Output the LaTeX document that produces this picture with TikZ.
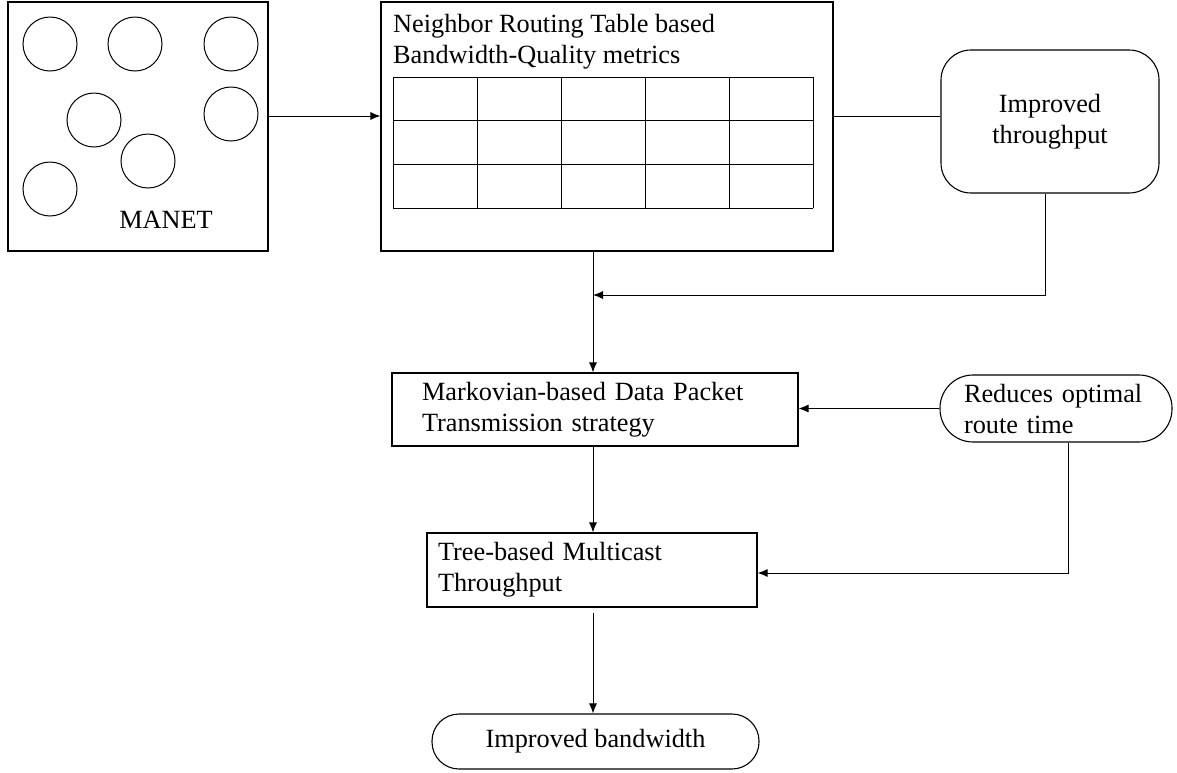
\documentclass[tikz,border=0pt]{standalone}
\usepackage{fontspec}
\setmainfont{Liberation Serif}
\usetikzlibrary{arrows.meta}

\begin{document}
\begin{tikzpicture}[x=1pt, y=-1pt,
		every node/.style={font=\fontsize{26.3}{31}\selectfont},
		box/.style={draw, line width=1.1pt, inner sep=0pt},
		rbox/.style={box, rounded corners=30pt},
		ln/.style={line width=1pt},
		arr/.style={line width=1pt, -{Latex[length=10pt, width=8pt]}}]
		%%%%% START %%%%%
		\useasboundingbox (0, 0) rectangle (1177, 772);
		
		\node[box, minimum width=260, minimum height=249] (manet) at (138, 126.5) {};
		\foreach \cx/\cy in {50/44, 135/44, 231/44, 94/120, 231/114, 148/161, 50/189}
			\draw[ln] (\cx, \cy) circle (27pt);
		\node (manetlbl) at (166, 220) {MANET};
		
		\node[box, minimum width=452, minimum height=249] (nrt) at (607, 126.5) {};
		\node[anchor=north west, align=left, inner sep=0pt] (nrttitle) at (393, 14) {Neighbor Routing Table based\\Bandwidth-Quality metrics};
		\foreach \i in {0,...,5}
			\draw[ln] (393+84*\i, 77) -- (393+84*\i, 208);
		\foreach \j in {0,...,3}
			\draw[ln] (393, 77+43.67*\j) -- (813, 77+43.67*\j);
		
		\node[rbox, minimum width=218, minimum height=143, align=center] (thr) at (1050, 121.5) {Improved\\throughput};
		
		\node[box, minimum width=406, minimum height=73, text width=346, inner xsep=30pt, align=left] (mark) at (595, 409.5) {Markovian-based Data Packet\\Transmission strategy};
		\node[rbox, rounded corners=33pt, minimum width=232, minimum height=67, text width=184, inner xsep=24pt, align=left] (red) at (1056, 408.5) {Reduces optimal\\route time};
		
		\node[box, minimum width=330, minimum height=74, text width=308, inner xsep=11pt, align=left] (tree) at (592, 570) {Tree-based Multicast\\Throughput};
		
		\node[rbox, rounded corners=27pt, minimum width=327, minimum height=55] (bw) at (595.5, 741.5) {Improved bandwidth};
		
		\coordinate (merge) at (593, 295);
		
		\draw[arr] ([yshift=10.5pt]manet.east) -- ([yshift=10.5pt]nrt.west);
		\draw[ln] ([yshift=10.5pt]nrt.east) -- ([yshift=10.5pt]nrt.east -| thr.west);
		\draw[arr] (merge |- nrt.south) -- (merge |- mark.north);
		\draw[arr] ([xshift=-5pt]thr.south) |- (merge);
		\draw[arr] (red.west) -- (red.west -| mark.east);
		\draw[arr] ([xshift=12pt]red.south) |- ([yshift=-3pt]tree.east);
		\draw[arr] (merge |- mark.south) -- (merge |- tree.north);
		\draw[arr] ([yshift=-5pt]merge |- tree.south) -- (merge |- bw.north);
		
		%%%%% END %%%%%
\end{tikzpicture}
\end{document}
